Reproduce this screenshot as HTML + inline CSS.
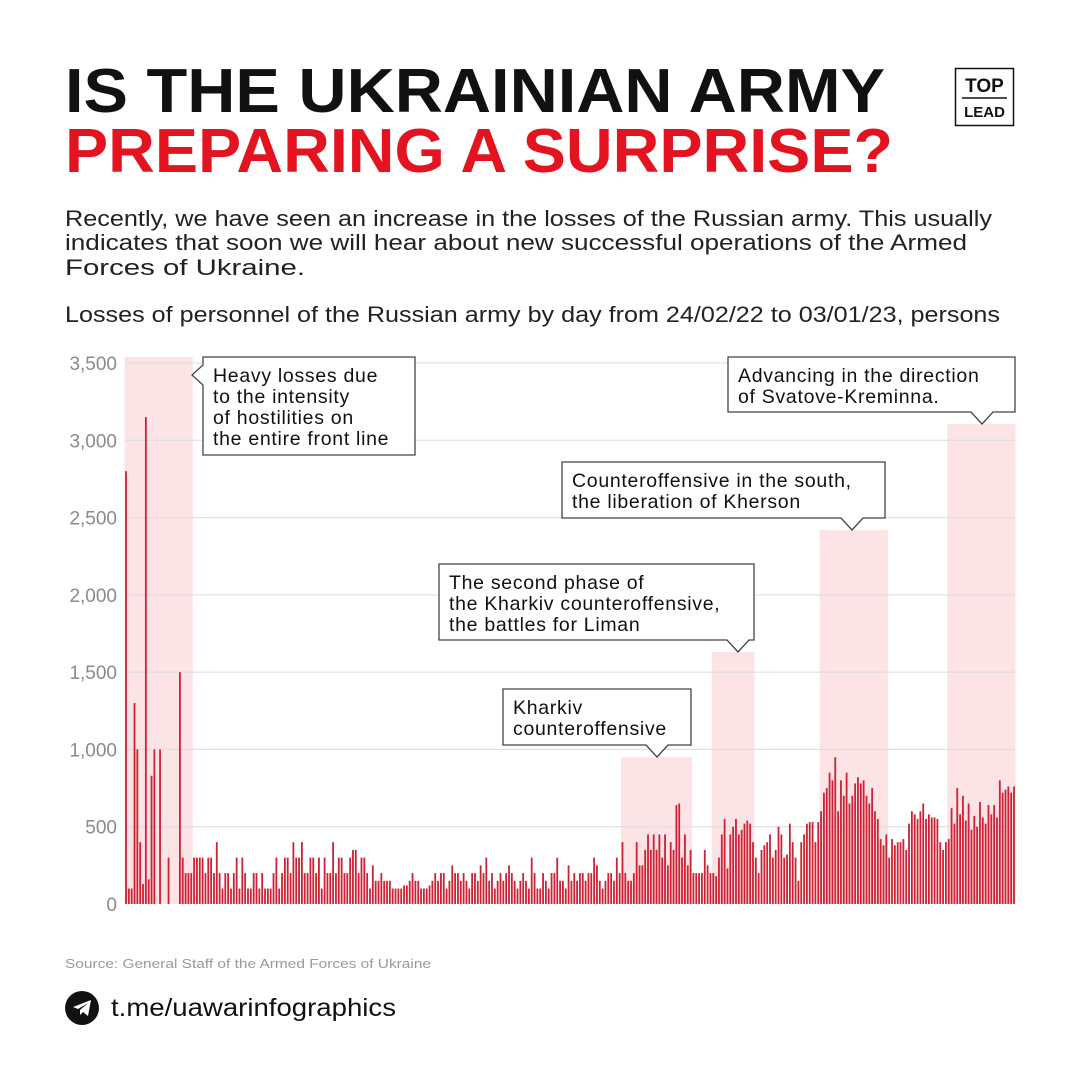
<!DOCTYPE html>
<html><head><meta charset="utf-8"><style>
html,body{margin:0;padding:0;background:#fff}
svg{display:block;font-family:"Liberation Sans",sans-serif}
</style></head><body>
<svg id="c" width="1080" height="1080" viewBox="0 0 1080 1080">
<text x="65" y="112" font-size="62" font-weight="900" fill="#111" textLength="820" lengthAdjust="spacingAndGlyphs">IS THE UKRAINIAN ARMY</text>
<text x="65" y="172" font-size="62" font-weight="900" fill="#e3141f" textLength="828" lengthAdjust="spacingAndGlyphs">PREPARING A SURPRISE?</text>
<g>
<rect x="955.5" y="68.5" width="58" height="57" fill="none" stroke="#111" stroke-width="1.5"/>
<text x="984.5" y="92" font-size="19" font-weight="700" text-anchor="middle" fill="#111">TOP</text>
<line x1="962" y1="98" x2="1007" y2="98" stroke="#111" stroke-width="1.5"/>
<text x="984.5" y="117" font-size="15" font-weight="700" text-anchor="middle" fill="#111">LEAD</text>
</g>
<g font-size="22" fill="#222">
<text x="65" y="226" textLength="927" lengthAdjust="spacingAndGlyphs">Recently, we have seen an increase in the losses of the Russian army. This usually</text>
<text x="65" y="250" textLength="902" lengthAdjust="spacingAndGlyphs">indicates that soon we will hear about new successful operations of the Armed</text>
<text x="65" y="275" textLength="240" lengthAdjust="spacingAndGlyphs">Forces of Ukraine.</text>
</g>
<text x="65" y="322" font-size="22" fill="#222" textLength="935" lengthAdjust="spacingAndGlyphs">Losses of personnel of the Russian army by day from 24/02/22 to 03/01/23, persons</text>
<g id="bands"></g>
<g id="grid"></g>
<g id="bars"></g>
<g id="callouts" font-size="19.5" fill="#111" letter-spacing="0.7"></g>
<text x="65" y="968" font-size="13" fill="#999" textLength="366" lengthAdjust="spacingAndGlyphs">Source: General Staff of the Armed Forces of Ukraine</text>
<g>
<circle cx="82" cy="1008" r="17" fill="#111"/>
<path d="M73 1007 L91 1000 L88 1016 L83 1012 L80 1015 L80 1010 L88 1003 L78 1009 Z" fill="#fff"/>
</g>
<text x="111" y="1016" font-size="25" fill="#111" textLength="285" lengthAdjust="spacingAndGlyphs">t.me/uawarinfographics</text>
</svg>
<script>
const values = [
2800,100,100,1300,1000,400,130,3150,160,830,1000,0,1000,0,0,300,0,0,0,1500,
300,200,200,200,300,300,300,300,200,300,300,200,400,200,100,200,200,100,200,300,
100,300,200,100,100,200,200,100,200,100,100,100,200,300,100,200,300,300,200,400,
300,300,400,200,200,300,300,200,300,100,300,200,200,400,200,300,300,200,200,300,
350,350,200,300,300,200,100,250,150,150,200,150,150,150,100,100,100,100,120,120,
150,200,150,150,100,100,100,120,150,200,150,200,200,100,150,250,200,200,150,200,
150,100,200,200,150,250,200,300,150,200,100,150,200,150,200,250,200,150,100,150,
200,150,100,300,200,100,100,200,150,100,200,200,300,150,150,100,250,150,200,150,
200,200,150,200,200,300,250,150,100,150,200,200,150,300,200,
400,200,150,150,200,400,250,250,350,450,350,450,350,450,300,450,250,400,350,640,650,300,450,250,350,
200,200,200,200,350,250,200,
200,180,300,450,550,230,450,500,550,450,480,520,540,520,400,
300,200,350,380,400,450,300,350,500,450,300,320,520,400,300,150,400,450,520,530,530,400,530,
600,720,750,850,800,950,600,800,700,850,650,700,780,820,780,800,700,650,750,600,550,420,380,450,
300,420,380,400,400,420,350,520,600,580,550,600,650,550,580,560,560,550,400,350,400,
420,620,520,750,580,700,540,650,480,570,500,660,560,520,640,580,640,560,800,720,740,760,720,760];
const yTicks = [0,500,1000,1500,2000,2500,3000,3500];
const yTickLabels = ["0","500","1,000","1,500","2,000","2,500","3,000","3,500"];
const bandStart = [0,175,207,245,290];
const bandEnd = [23,199,221,268,313];
const bandTop = [3500,950,1630,2420,3105];
const calloutLines = [
 ["Heavy losses due","to the intensity","of hostilities on","the entire front line"],
 ["Kharkiv","counteroffensive"],
 ["The second phase of","the Kharkiv counteroffensive,","the battles for Liman"],
 ["Counteroffensive in the south,","the liberation of Kherson"],
 ["Advancing in the direction","of Svatove-Kreminna."]];
const NS="http://www.w3.org/2000/svg";
const X0=126,X1=1014,Y0=904,Y1=363;
const step=(X1-X0)/(values.length-1);
const x=i=>X0+i*step;
const y=v=>Y0-(v/3500)*(Y0-Y1);
function mk(t,a,p){const e=document.createElementNS(NS,t);for(const k in a)e.setAttribute(k,a[k]);p.appendChild(e);return e;}
const bands=document.getElementById('bands');
bandStart.forEach((s,i)=>{
 const r=mk('rect',{x:x(s)-1.5,y:y(bandTop[i])-(i==0?6:0),width:x(bandEnd[i])-x(s)+3,height:Y0-y(bandTop[i])+(i==0?6:0),fill:'#fce3e5'},bands);
 
 
});
const grid=document.getElementById('grid');
yTicks.forEach((t,i)=>{
 if(t>0){const l=mk('line',{x1:125,x2:1015,y1:y(t),y2:y(t),stroke:'#dcdcdc','stroke-width':1},grid);
 
 }
 const tx=mk('text',{x:117,y:y(t)+7,'font-size':19,fill:'#8a8a8a','text-anchor':'end'},grid);
 tx.textContent=yTickLabels[i];
 
 
});
const bars=document.getElementById('bars');
values.forEach((v,i)=>{
 if(v<=0)return;
 const b=mk('rect',{x:x(i)-0.9,y:y(v),width:1.8,height:Y0-y(v),fill:'#cc2233'},bars);
 
 
});
const boxes=[[203,357,212,98],[503,689,188,56],[439,564,315,76],[562,462,323,56],[728,357,287,55]];
const ptr=[[192,375,'left'],[657,757,'down'],[738,652,'down'],[852,530,'down'],[982,424,'down']];
const co=document.getElementById('callouts');
boxes.forEach((bx,i)=>{
 const [bx0,by0,w,h]=bx,[px,py,d]=ptr[i];
 const g=mk('g',{},co);
 
 
 let p;
 if(d==='left'){
  p=`M${bx0} ${by0} H${bx0+w} V${by0+h} H${bx0} V${py+10} L${px} ${py} L${bx0} ${py-10} Z`;
 } else {
  p=`M${bx0} ${by0} H${bx0+w} V${by0+h} H${px+11} L${px} ${py} L${px-11} ${by0+h} H${bx0} Z`;
 }
 mk('path',{d:p,fill:'#fff',stroke:'#444','stroke-width':1.3},g);
 calloutLines[i].forEach((s,j)=>{
  const t=mk('text',{x:bx0+10,y:by0+25+j*21},g);t.textContent=s;
 });
});
</script>
</body></html>
